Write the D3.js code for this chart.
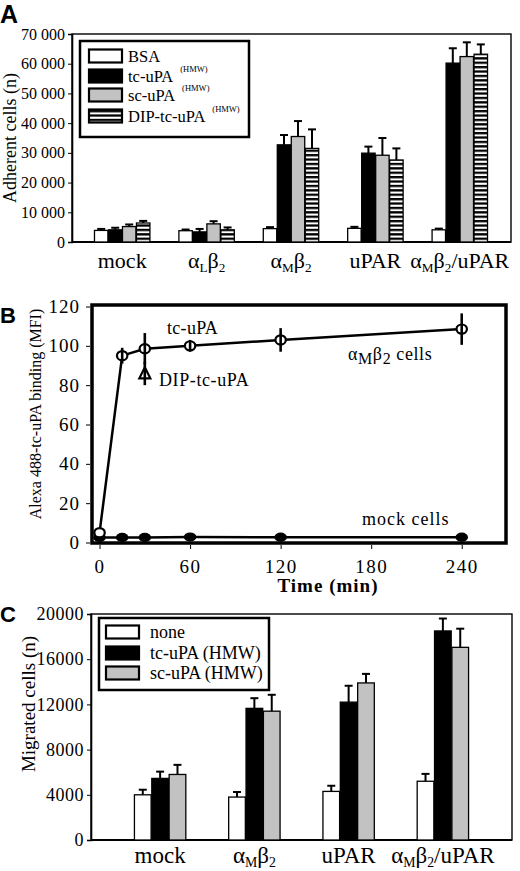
<!DOCTYPE html>
<html><head><meta charset="utf-8">
<script src="https://cdn.jsdelivr.net/npm/d3@7"></script>
<style>
body{margin:0;background:#fff}
svg{display:block}
text{font-family:"Liberation Serif","Times New Roman",serif;fill:#000}
.letter{font-family:"Liberation Sans",Arial,sans-serif;font-weight:bold}
</style>
</head><body>
<svg id="chart" width="520" height="871"></svg>
<script>
// ---------- Panel A data ----------
const catsA = ["mock", "α_Lβ_2", "α_Mβ_2", "uPAR", "α_Mβ_2/uPAR"];
const seriesA = ["BSA", "tc-uPA", "sc-uPA", "DIP-tc-uPA"];
const bsaA = [3900, 3800, 4500, 4600, 4100];
const bsaErrA = [500, 400, 500, 500, 400];
const tcA = [4100, 3400, 32700, 29900, 60200];
const tcErrA = [700, 1000, 3300, 2200, 5000];
const scA = [5200, 6100, 35500, 29200, 62400];
const scErrA = [700, 900, 5200, 5800, 4800];
const dipA = [6400, 4100, 31500, 27600, 63200];
const dipErrA = [700, 800, 6400, 3900, 3300];
const ticksA = [0, 10000, 20000, 30000, 40000, 50000, 60000, 70000];
const tickLabelsA = ["0", "10 000", "20 000", "30 000", "40 000", "50 000", "60 000", "70 000"];

// ---------- Panel B data ----------
const timesB = [0, 15, 30, 60, 120, 240];
const amB = [5, 95, 98.5, 100, 103, 108.5];
const amErrB = [0, 4, 8, 3, 6, 8];
const mockB = [2.6, 2.6, 2.6, 2.8, 2.7, 2.7];
const dipTimeB = [30];
const dipB = [86];
const dipErrB = [6];
const ticksBx = [0, 60, 120, 180, 240];
const ticksBy = [0, 20, 40, 60, 80, 100, 120];

// ---------- Panel C data ----------
const catsC = ["mock", "α_Mβ_2", "uPAR", "α_Mβ_2/uPAR"];
const seriesC = ["none", "tc-uPA (HMW)", "sc-uPA (HMW)"];
const noneC = [4000, 3800, 4300, 5200];
const noneErrC = [450, 450, 500, 650];
const tcC = [5450, 11650, 12200, 18500];
const tcErrC = [600, 900, 1450, 1100];
const scC = [5800, 11400, 13900, 17050];
const scErrC = [850, 1450, 800, 1650];
const ticksC = [0, 4000, 8000, 12000, 16000, 20000];
const tickLabelsC = ["0", "4000", "8000", "12000", "16000", "20000"];

const svg = d3.select("#chart");

// stripes pattern
const defs = svg.append("defs");
const pat = defs.append("pattern").attr("id", "stripes").attr("patternUnits", "userSpaceOnUse")
  .attr("width", 10).attr("height", 4.4);
pat.append("rect").attr("width", 10).attr("height", 4.4).attr("fill", "#fff");
pat.append("rect").attr("width", 10).attr("height", 2.3).attr("fill", "#000");

function rich(sel, str, subSize, dy) {
  const parts = [];
  for (let i = 0; i < str.length; i++) {
    if (str[i] === "_") { parts.push({ t: str[i + 1], sub: true }); i++; }
    else {
      const last = parts[parts.length - 1];
      if (last && !last.sub) last.t += str[i]; else parts.push({ t: str[i], sub: false });
    }
  }
  let inSub = false;
  parts.forEach(p => {
    const ts = sel.append("tspan").text(p.t);
    if (p.sub) { ts.attr("font-size", subSize).attr("dy", inSub ? 0 : dy); inSub = true; }
    else if (inSub) { ts.attr("dy", -dy); inSub = false; }
  });
}

function barPanel(cfg) {
  const g = svg.append("g");
  const x0 = d3.scaleBand().domain(cfg.cats).range(cfg.xr).paddingInner(cfg.pad).paddingOuter(cfg.pad / 2);
  const x1 = d3.scaleBand().domain(cfg.series.map((d, i) => i)).range([0, x0.bandwidth()]).padding(0.04);
  const y = d3.scaleLinear().domain(cfg.yd).range(cfg.yr);
  // frame
  g.append("rect").attr("x", cfg.frame[0]).attr("y", cfg.yr[1]).attr("width", cfg.frame[1] - cfg.frame[0])
    .attr("height", cfg.yr[0] - cfg.yr[1]).attr("fill", "none").attr("stroke", "#000").attr("stroke-width", 1.4);
  // y axis
  const ax = g.append("g").attr("transform", `translate(${cfg.frame[0]},0)`)
    .call(d3.axisLeft(y).tickValues(cfg.ticks).tickFormat((d, i) => cfg.tickLabels[i]).tickSize(4).tickPadding(3));
  ax.select(".domain").attr("stroke-width", 1.6);
  ax.selectAll("text").attr("font-size", cfg.tickFont).attr("letter-spacing", cfg.tickLS);
  // bottom line
  g.append("line").attr("x1", cfg.frame[0]).attr("x2", cfg.frame[1]).attr("y1", cfg.yr[0]).attr("y2", cfg.yr[0])
    .attr("stroke", "#000").attr("stroke-width", 2);
  // bars
  cfg.values.forEach((vals, si) => {
    const errs = cfg.errs[si];
    cfg.cats.forEach((c, ci) => {
      const bx = x0(c) + x1(si), bw = x1.bandwidth();
      g.append("rect").attr("x", bx).attr("y", y(vals[ci])).attr("width", bw)
        .attr("height", y(0) - y(vals[ci])).attr("fill", cfg.fills[si]).attr("stroke", "#000").attr("stroke-width", 1.3);
      const cx = bx + bw / 2;
      g.append("line").attr("x1", cx).attr("x2", cx).attr("y1", y(vals[ci])).attr("y2", y(vals[ci] + errs[ci]))
        .attr("stroke", "#000").attr("stroke-width", 2);
      g.append("line").attr("x1", cx - 4).attr("x2", cx + 4).attr("y1", y(vals[ci] + errs[ci])).attr("y2", y(vals[ci] + errs[ci]))
        .attr("stroke", "#000").attr("stroke-width", 2);
    });
  });
  // category labels
  cfg.cats.forEach(c => {
    const t = g.append("text").attr("x", x0(c) + x0.bandwidth() / 2).attr("y", cfg.catY)
      .attr("text-anchor", "middle").attr("font-size", cfg.catFont);
    rich(t, c, cfg.catFont * 0.6, 4);
  });
  // y label
  g.append("text").attr("transform", `translate(${cfg.ylabX},${(cfg.yr[0] + cfg.yr[1]) / 2 + cfg.ylabDy}) rotate(-90)`)
    .attr("text-anchor", "middle").attr("font-size", cfg.ylabFont).text(cfg.ylab);
  // legend
  const L = cfg.legend;
  g.append("rect").attr("x", L.x).attr("y", L.y).attr("width", L.w).attr("height", L.h)
    .attr("fill", "#fff").attr("stroke", "#000").attr("stroke-width", 2.5);
  cfg.series.forEach((s, i) => {
    const cy = L.rows[i];
    g.append("rect").attr("x", L.sx).attr("y", cy - 6.5).attr("width", 33).attr("height", 13)
      .attr("fill", cfg.legendFills[i]).attr("stroke", "#000").attr("stroke-width", 2.2);
    const lt = g.append("text").attr("x", L.tx).attr("y", cy + L.tdy).attr("font-size", L.font).text(s);
    if (L.sup && L.sup[i]) {
      const tw = lt.node().getComputedTextLength();
      g.append("text").attr("x", L.tx + tw + 7).attr("y", cy + L.tdy - 10).attr("font-size", 8.5).text(L.sup[i]);
    }
  });
  return g;
}

// ---------- Panel A ----------
barPanel({
  cats: catsA, series: seriesA,
  values: [bsaA, tcA, scA, dipA], errs: [bsaErrA, tcErrA, scErrA, dipErrA],
  fills: ["#fff", "#000", "#c2c2c2", "url(#stripes)"],
  legendFills: ["#fff", "#000", "#c2c2c2", "url(#stripes)"],
  xr: [80, 502], pad: 0.33, yd: [0, 70000], yr: [242, 34], frame: [72, 511],
  ticks: ticksA, tickLabels: tickLabelsA, tickFont: 16, tickLS: 0,
  catY: 268, catFont: 22,
  ylab: "Adherent cells (n)", ylabX: 16, ylabDy: 0, ylabFont: 18,
  legend: { x: 80, y: 41, w: 169, h: 96, sx: 89, tx: 128, tdy: 6, font: 16.5,
    rows: [56, 76, 95, 116], sup: [null, "(HMW)", "(HMW)", "(HMW)"] }
});
svg.append("text").attr("class", "letter").attr("x", 0).attr("y", 23).attr("font-size", 25).text("A");

// ---------- Panel C ----------
barPanel({
  cats: catsC, series: seriesC,
  values: [noneC, tcC, scC], errs: [noneErrC, tcErrC, scErrC],
  fills: ["#fff", "#000", "#c2c2c2"],
  legendFills: ["#fff", "#000", "#c2c2c2"],
  xr: [113, 490], pad: 0.44, yd: [0, 20000], yr: [840, 614], frame: [91, 512],
  ticks: ticksC, tickLabels: tickLabelsC, tickFont: 18, tickLS: 0.5,
  catY: 863, catFont: 23,
  ylab: "Migrated cells (n)", ylabX: 35, ylabDy: -23, ylabFont: 19,
  legend: { x: 99, y: 618, w: 170, h: 72, sx: 106, tx: 150, tdy: 6, font: 18,
    rows: [632, 653, 673], sup: null }
});
svg.append("text").attr("class", "letter").attr("x", 0).attr("y", 622).attr("font-size", 22).text("C");

// ---------- Panel B ----------
const gB = svg.append("g");
const xB = d3.scaleLinear().domain([-5, 270]).range([92, 507]);
const yB = d3.scaleLinear().domain([0, 120]).range([542.5, 306.5]);
gB.append("rect").attr("x", 92).attr("y", 305).attr("width", 414).attr("height", 238)
  .attr("fill", "none").attr("stroke", "#000").attr("stroke-width", 3.5);
const axBy = gB.append("g").attr("transform", "translate(90,0)")
  .call(d3.axisLeft(yB).tickValues(ticksBy).tickSize(4).tickPadding(6));
axBy.select(".domain").remove();
axBy.selectAll("text").attr("font-size", 19).attr("letter-spacing", 1);
const axBx = gB.append("g").attr("transform", "translate(0,545)")
  .call(d3.axisBottom(xB).tickValues(ticksBx).tickSize(4).tickPadding(11));
axBx.select(".domain").remove();
axBx.selectAll("text").attr("font-size", 19).attr("letter-spacing", 1.5);
gB.append("text").attr("x", 328).attr("y", 592).attr("text-anchor", "middle").attr("font-size", 19)
  .attr("font-weight", "bold").attr("letter-spacing", 1).text("Time (min)");
gB.append("text").attr("transform", "translate(41,414) rotate(-90)").attr("text-anchor", "middle")
  .attr("font-size", 16).text("Alexa 488-tc-uPA binding (MFI)");

const line = d3.line().x((d, i) => xB(timesB[i])).y(d => yB(d));
gB.append("path").attr("d", line(mockB)).attr("fill", "none").attr("stroke", "#000").attr("stroke-width", 2.5);
gB.selectAll(".mk").data(mockB).enter().append("ellipse")
  .attr("cx", (d, i) => xB(timesB[i])).attr("cy", d => yB(d)).attr("rx", 6.3).attr("ry", 4.6).attr("fill", "#000");
gB.append("path").attr("d", line(amB)).attr("fill", "none").attr("stroke", "#000").attr("stroke-width", 2.5);
gB.selectAll(".am").data(amB).enter().append("ellipse")
  .attr("cx", (d, i) => xB(timesB[i])).attr("cy", d => yB(d)).attr("rx", 5.2).attr("ry", 4.6)
  .attr("fill", "#fff").attr("stroke", "#000").attr("stroke-width", 2.2);
amB.forEach((v, i) => {
  if (amErrB[i] > 0) gB.append("line").attr("x1", xB(timesB[i])).attr("x2", xB(timesB[i]))
    .attr("y1", yB(v - amErrB[i])).attr("y2", yB(v + amErrB[i])).attr("stroke", "#000").attr("stroke-width", 2.6);
});
dipB.forEach((v, i) => {
  const cx = xB(dipTimeB[i]), cy = yB(v);
  gB.append("line").attr("x1", cx).attr("x2", cx).attr("y1", yB(v - dipErrB[i])).attr("y2", yB(v + dipErrB[i]))
    .attr("stroke", "#000").attr("stroke-width", 2.6);
  gB.append("path").attr("d", `M${cx},${cy - 6}L${cx + 5.5},${cy + 5}L${cx - 5.5},${cy + 5}Z`)
    .attr("fill", "#fff").attr("stroke", "#000").attr("stroke-width", 2.2);
  gB.append("line").attr("x1", cx).attr("x2", cx).attr("y1", cy - 5).attr("y2", cy + 5)
    .attr("stroke", "#000").attr("stroke-width", 2.6);
});
gB.append("text").attr("x", 167).attr("y", 334).attr("font-size", 18).attr("letter-spacing", 0.3).text("tc-uPA");
gB.append("text").attr("x", 159).attr("y", 386).attr("font-size", 18).attr("letter-spacing", 0.6).text("DIP-tc-uPA");
const tAm = gB.append("text").attr("x", 348).attr("y", 360).attr("font-size", 18).attr("letter-spacing", 0.6);
rich(tAm, "α_Mβ_2 cells", 16, 4);
gB.append("text").attr("x", 362).attr("y", 525).attr("font-size", 18).attr("letter-spacing", 1).text("mock cells");
svg.append("text").attr("class", "letter").attr("x", 0).attr("y", 323).attr("font-size", 22).text("B");
</script>
</body></html>
